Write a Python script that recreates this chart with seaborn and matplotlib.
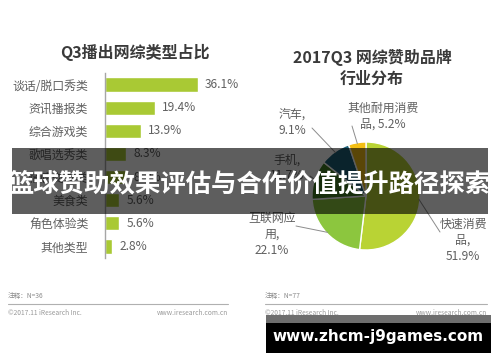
import matplotlib as mpl
mpl.use('Agg')
import matplotlib.pyplot as plt
import seaborn as sns
import numpy as np
from matplotlib.patches import Rectangle
from matplotlib.lines import Line2D

sns.set_theme(style="white")
plt.rcParams['font.family'] = ['Noto Sans CJK SC', 'DejaVu Sans']

# left chart data
bar_cats = ["谈话/脱口秀类", "资讯播报类", "综合游戏类", "歌唱选秀类",
            "情感交友类", "美食类", "角色体验类", "其他类型"]
bar_vals = [36.1, 19.4, 13.9, 8.3, 8.3, 5.6, 5.6, 2.8]

# right chart data
pie_cats = ["快速消费品", "互联网应用", "手机", "汽车", "其他耐用消费品"]
pie_vals = [51.9, 22.1, 11.7, 9.1, 5.2]
pie_colors = ["#b9d334", "#8cc63e", "#3f7a22", "#1c5f78", "#f4bf14"]
pie_labels = ["快速消费\n品,\n51.9%", "互联网应\n用,\n22.1%", "手机,\n11.7%",
              "汽车,\n9.1%", "其他耐用消费\n品, 5.2%"]

W, H = 500, 362
fig = plt.figure(figsize=(W / 100, H / 100), dpi=100)
fig.patch.set_facecolor("white")


def fb(x0, y0, x1, y1):
    # pixel box (top-left origin) -> figure fraction rect
    return [x0 / W, 1 - y1 / H, (x1 - x0) / W, (y1 - y0) / H]


txt = "#606060"

# ---- bar chart ----
ax = fig.add_axes(fb(105, 73, 234, 258))
sns.barplot(x=bar_vals, y=bar_cats, color="#a9c934", width=0.62,
            saturation=1, ax=ax)
ax.set_xlim(0, 50)
for s in ["top", "right", "bottom"]:
    ax.spines[s].set_visible(False)
ax.spines["left"].set_color("#a6a6a6")
ax.spines["left"].set_linewidth(1)
ax.set_xticks([])
ax.set_xlabel("")
ax.set_ylabel("")
ax.tick_params(axis="y", length=0, pad=12, labelsize=8.6, labelcolor=txt)
ax.bar_label(ax.containers[0], labels=[f"{v:.1f}%" for v in bar_vals],
             padding=5, fontsize=8.6, color=txt)
ax.patch.set_alpha(0)

fig.text(135 / W, 1 - 52 / H, "Q3播出网综类型占比", ha="center", va="center",
         fontsize=11.5, fontweight="bold", color="#3a3a3a")

# ---- pie chart ----
ax2 = fig.add_axes(fb(312, 142, 420, 250))
wedges, _ = ax2.pie(pie_vals, colors=pie_colors, startangle=90,
                    counterclock=False,
                    wedgeprops=dict(edgecolor="white", linewidth=1))
ax2.set_xlim(-1, 1)
ax2.set_ylim(-1, 1)

fig.text(372 / W, 1 - 68 / H, "2017Q3 网综赞助品牌\n行业分布", ha="center",
         va="center", fontsize=11.5, fontweight="bold", color="#3a3a3a",
         linespacing=1.35)

# label positions (pixels, top-left origin) and leader line ends
label_pos = [(463, 240), (272, 234), (287, 168), (292, 122), (383, 116)]
line_end = [(440, 232), (296, 226), (310, 176), (312, 128), (352, 126)]
for w, lab, (tx, ty), (ex, ey) in zip(wedges, pie_labels, label_pos, line_end):
    ang = np.deg2rad((w.theta1 + w.theta2) / 2)
    px, py = np.cos(ang) * 0.98, np.sin(ang) * 0.98
    fig.text(tx / W, 1 - ty / H, lab, ha="center", va="center",
             fontsize=8.6, color=txt, linespacing=1.3)
    ax2.annotate("", xy=(px, py), xytext=(ex, H - ey),
                 textcoords="figure pixels",
                 arrowprops=dict(arrowstyle="-", color="#8c8c8c", lw=0.7,
                                 shrinkA=0, shrinkB=0))

# ---- footers ----
for x0, x1, note in [(8, 228, "注释：N=36"), (265, 487, "注释：N=77")]:
    fig.text(x0 / W, 1 - 296 / H, note, fontsize=4.8, color="#8a8a8a",
             va="center")
    fig.add_artist(Line2D([x0 / W, x1 / W], [1 - 304 / H, 1 - 304 / H],
                          color="#b0b0b0", lw=0.8))
    fig.text(x0 / W, 1 - 313 / H, "©2017.11 iResearch Inc.", fontsize=4.8,
             color="#9a9a9a", va="center")
    fig.text(x1 / W, 1 - 313 / H, "www.iresearch.com.cn", fontsize=4.8,
             color="#9a9a9a", va="center", ha="right")

# ---- overlay banner ----
fig.add_artist(Rectangle((12 / W, 1 - 214 / H), 476 / W, 66 / H,
                         transform=fig.transFigure, facecolor="black",
                         alpha=0.63, edgecolor="none", zorder=5))
fig.text(250 / W, 1 - 184 / H, "篮球赞助效果评估与合作价值提升路径探索",
         ha="center", va="center", fontsize=18.3, fontweight="bold",
         color="white", zorder=6)

# ---- bottom url box ----
fig.add_artist(Rectangle((266 / W, 1 - 323 / H), 225 / W, 8 / H,
                         transform=fig.transFigure, facecolor="#6e6e6e",
                         edgecolor="none", zorder=5))
fig.add_artist(Rectangle((266 / W, 1 - 353 / H), 225 / W, 30 / H,
                         transform=fig.transFigure, facecolor="black",
                         edgecolor="none", zorder=5))
fig.text(378 / W, 1 - 337 / H, "www.zhcm-j9games.com", ha="center",
         va="center", fontsize=11, fontweight="bold", color="white",
         family=["DejaVu Sans"], zorder=6)

fig.savefig("out.png", dpi=100)
